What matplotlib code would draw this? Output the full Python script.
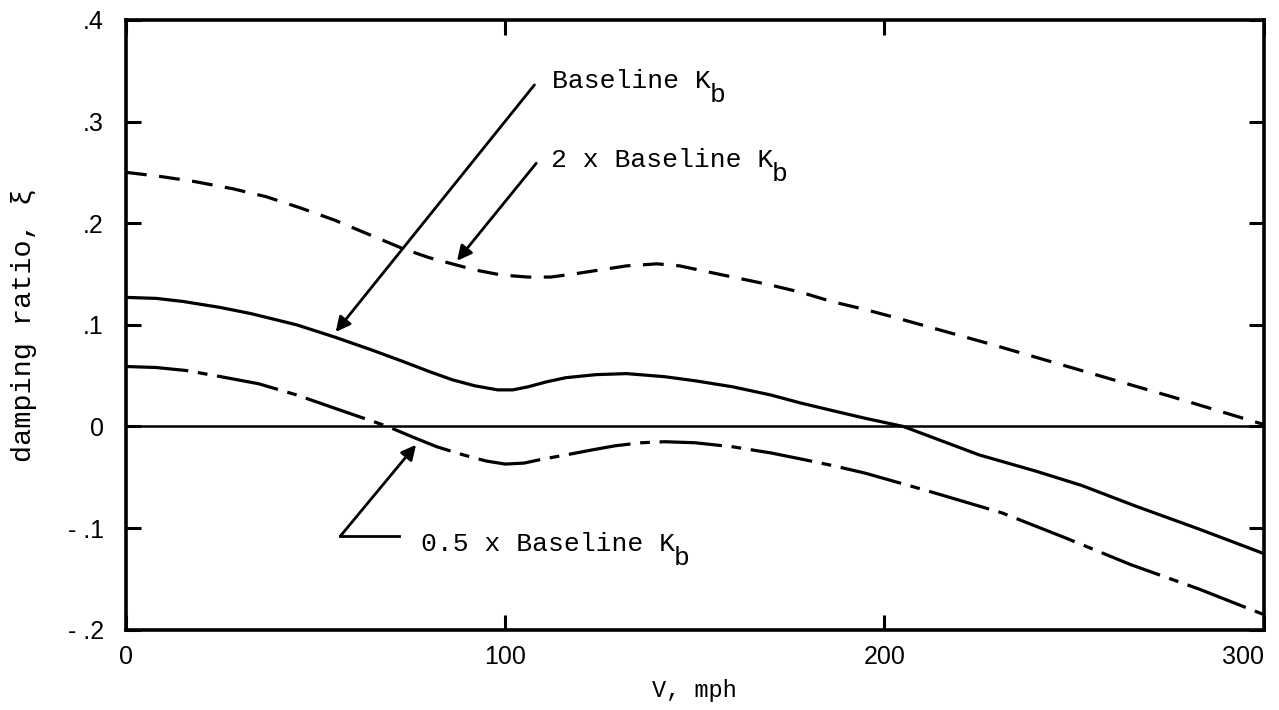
import matplotlib
matplotlib.use('Agg')
import matplotlib.pyplot as plt
import matplotlib.transforms as mtransforms

# speed, mph and damping ratio
v_base = [0, 8, 15, 25, 33, 45, 55, 65, 73, 80, 86, 92, 98, 102, 106, 111, 116, 124, 132, 142,
          150, 160, 170, 178, 187, 195, 205, 215, 225, 240, 252, 266, 283, 300]
z_base = [.127, .126, .123, .117, .111, .100, .088, .075, .064, .054, .046, .040, .036, .036,
          .039, .044, .048, .051, .052, .049, .045, .039, .031, .023, .015, .008, 0.0, -.014,
          -.028, -.044, -.058, -.078, -.101, -.125]

v_2x = [0, 9, 18, 28, 37, 46, 55, 64, 73, 80, 86, 92, 99, 106, 112, 118, 125, 132, 140, 146,
        151, 160, 169, 178, 186, 195, 203, 228, 252, 276, 300]
z_2x = [.250, .246, .241, .234, .226, .215, .203, .189, .175, .166, .160, .154, .149, .147, .147,
        .150, .154, .158, .160, .158, .154, .147, .140, .132, .123, .115, .107, .081, .055, .029,
        .002]

v_half = [0, 8, 16, 25, 35, 45, 55, 62, 69, 76, 82, 89, 95, 100, 105, 110, 116, 123, 129, 136,
          142, 150, 160, 170, 178, 187, 195, 212, 231, 248, 265, 283, 300]
z_half = [.059, .058, .055, .049, .042, .031, .018, .009, 0.0, -.011, -.020, -.028, -.034, -.037,
          -.036, -.032, -.028, -.023, -.019, -.016, -.015, -.016, -.020, -.026, -.032, -.039,
          -.046, -.064, -.085, -.110, -.136, -.160, -.185]

x_ticks = [0, 100, 200, 300]
y_ticks = [-.2, -.1, 0, .1, .2, .3, .4]
y_tick_labels = ['- .2', '- .1', '0', '.1', '.2', '.3', '.4']

MONO = ['Liberation Mono', 'DejaVu Sans Mono']
plt.rcParams['lines.scale_dashes'] = False

fig = plt.figure(figsize=(12.79, 7.10), dpi=100)
ax = fig.add_axes([0.0985, 0.113, 0.8895, 0.859])

ax.plot(v_base, z_base, color='black', lw=2.3, solid_joinstyle='round')
ax.plot(v_2x, z_2x, color='black', lw=2.3, dashes=(15, 9))
ax.plot(v_half, z_half, color='black', lw=2.3, dashes=(45, 7, 7, 7))
ax.axhline(0, color='black', lw=1.8)

ax.set_xlim(0, 300)
ax.set_ylim(-.2, .4)
ax.set_xticks(x_ticks)
ax.set_xticklabels([str(t) for t in x_ticks], family='Liberation Sans', fontsize=18)
ax.get_xticklabels()[-1].set_ha('right')
ax.set_yticks(y_ticks)
ax.set_yticklabels(y_tick_labels, family='Liberation Sans', fontsize=18)
ax.tick_params(direction='in', length=11, width=2.2, top=True, right=True)
ax.tick_params(axis='x', pad=11)
ax.tick_params(axis='y', pad=16)
for s in ax.spines.values():
    s.set_linewidth(2.6)

ax.set_xlabel('V, mph', family=MONO, fontsize=17, labelpad=7)
ax.set_ylabel('damping ratio, ξ', family=MONO, fontsize=20.5)
ax.yaxis.set_label_coords(-0.078, 0.5)


def label_kb(x, y, text):
    ax.text(x, y, text, family=MONO, fontsize=19, ha='left', va='center')
    off = mtransforms.offset_copy(ax.transData, fig=fig, x=len(text) * 11.4 - 0.5, y=-10,
                                  units='points')
    ax.text(x, y, 'b', family=MONO, fontsize=19, ha='left', va='center', transform=off)


arrow = dict(arrowstyle='-|>', color='black', lw=2, mutation_scale=22, shrinkA=0, shrinkB=0)

label_kb(112.4, .340, 'Baseline K')
ax.annotate('', xy=(55.3, .093), xytext=(107.7, .336), arrowprops=arrow)

label_kb(112, .262, '2 x Baseline K')
ax.annotate('', xy=(87.3, .163), xytext=(108.2, .259), arrowprops=arrow)

label_kb(77.8, -.116, '0.5 x Baseline K')
ax.plot([72, 56.5], [-.108, -.108], color='black', lw=2)
ax.annotate('', xy=(76.5, -.018), xytext=(56.5, -.108), arrowprops=arrow)

fig.savefig('out.png', dpi=100)
